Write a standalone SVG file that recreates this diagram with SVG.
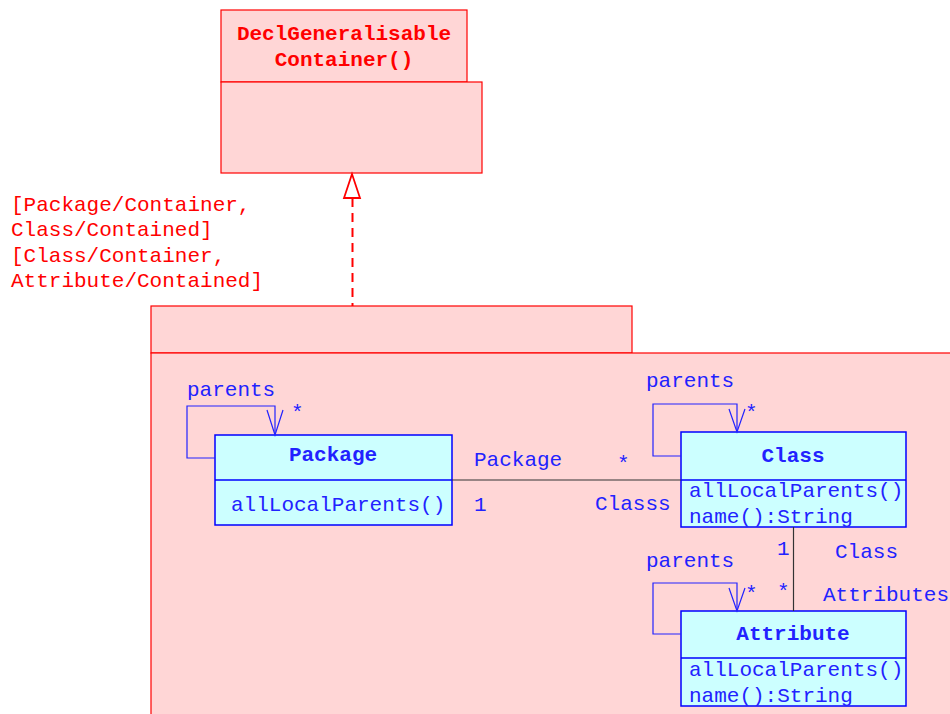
<svg xmlns="http://www.w3.org/2000/svg" width="950" height="714" viewBox="0 0 950 714">
<style>
.r{fill:#ffd6d6;stroke:#ff0000;stroke-width:1.2}
.b{fill:#ccffff;stroke:#0000ff;stroke-width:1.5}
.t{font-family:"Liberation Mono","Courier New",monospace;font-size:21px}
.tr{fill:#ff0000}
.tb{fill:#2222ff}
.bold{font-weight:bold}
.loop{fill:none;stroke:#2222ff;stroke-width:1.2}
.assoc{fill:none;stroke:#333333;stroke-width:1.2}
</style>
<rect width="950" height="714" fill="#ffffff"/>
<g id="DeclGeneralisableContainer">
<rect class="r" x="221" y="10" width="246" height="72"/>
<rect class="r" x="221" y="82" width="261" height="91"/>
<text class="t tr bold" x="344" y="40" text-anchor="middle">DeclGeneralisable</text>
<text class="t tr bold" x="344" y="66" text-anchor="middle">Container()</text>
</g>
<g id="PackageFrame">
<rect class="r" x="151" y="306" width="481" height="47"/>
<rect class="r" x="151" y="353" width="805" height="370"/>
</g>
<g id="binding">
<text class="t tr" x="11" y="211">[Package/Container,</text>
<text class="t tr" x="11" y="236">Class/Contained]</text>
<text class="t tr" x="11" y="262">[Class/Container,</text>
<text class="t tr" x="11" y="287">Attribute/Contained]</text>
</g>
<g id="Package">
<rect class="b" x="215" y="435" width="237" height="90"/>
<line x1="215" y1="480" x2="452" y2="480" stroke="#0000ff" stroke-width="1.5"/>
<text class="t tb bold" x="333" y="461" text-anchor="middle">Package</text>
<text class="t tb" x="231" y="511">allLocalParents()</text>
</g>
<g id="Class">
<rect class="b" x="681" y="432" width="225" height="95"/>
<line x1="681" y1="480" x2="906" y2="480" stroke="#0000ff" stroke-width="1.5"/>
<text class="t tb bold" x="793" y="462" text-anchor="middle">Class</text>
<text class="t tb" x="689" y="497">allLocalParents()</text>
<text class="t tb" x="689" y="523">name():String</text>
</g>
<g id="Attribute">
<rect class="b" x="681" y="611" width="225" height="95"/>
<line x1="681" y1="658" x2="906" y2="658" stroke="#0000ff" stroke-width="1.5"/>
<text class="t tb bold" x="793" y="640" text-anchor="middle">Attribute</text>
<text class="t tb" x="689" y="676">allLocalParents()</text>
<text class="t tb" x="689" y="702">name():String</text>
</g>
<g id="connectors">
<line x1="352.5" y1="198" x2="352.5" y2="306" stroke="#ff0000" stroke-width="2" stroke-dasharray="9,6"/>
<polygon points="352,174 344,198 360,198" fill="#ffffff" stroke="#ff0000" stroke-width="1.8"/>
<polyline class="loop" points="215,458 187,458 187,406 275,406 275,435"/>
<polyline class="loop" points="267,410 275,435 283,410"/>
<polyline class="loop" points="681,456 653,456 653,404 737,404 737,432"/>
<polyline class="loop" points="729,409 737,432 745,409"/>
<polyline class="loop" points="681,634 653,634 653,583 737,583 737,611"/>
<polyline class="loop" points="729,588 737,611 745,588"/>
<line class="assoc" x1="452" y1="480" x2="681" y2="480"/>
<line class="assoc" x1="793.5" y1="527" x2="793.5" y2="611"/>
<text class="t tb" x="187" y="396">parents</text>
<text class="t tb" x="291" y="419">*</text>
<text class="t tb" x="745" y="419">*</text>
<text class="t tb" x="646" y="387">parents</text>
<text class="t tb" x="646" y="567">parents</text>
<text class="t tb" x="745" y="600">*</text>
<text class="t tb" x="474" y="466">Package</text>
<text class="t tb" x="617" y="470">*</text>
<text class="t tb" x="474" y="511">1</text>
<text class="t tb" x="595" y="510">Classs</text>
<text class="t tb" x="777" y="555">1</text>
<text class="t tb" x="835" y="558">Class</text>
<text class="t tb" x="777" y="598">*</text>
<text class="t tb" x="823" y="601">Attributes</text>
</g>
</svg>
